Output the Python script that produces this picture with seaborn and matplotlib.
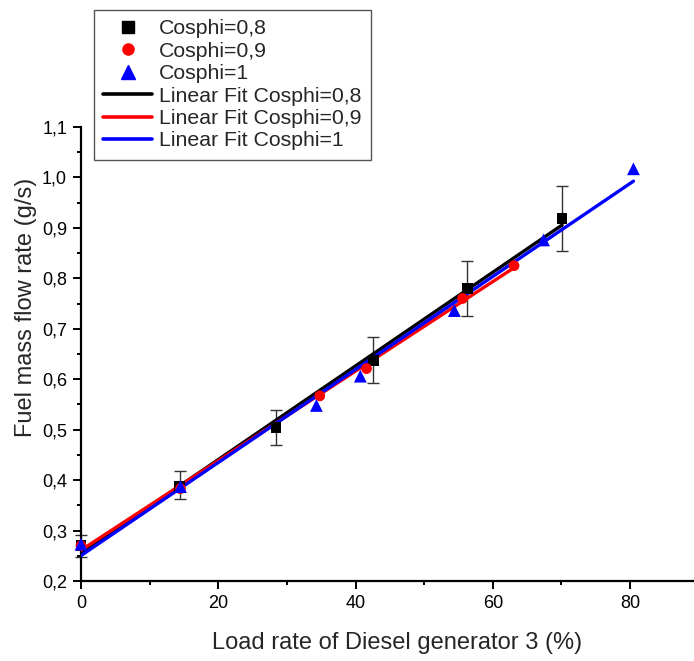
import matplotlib
matplotlib.use("Agg")
import matplotlib.pyplot as plt
import seaborn as sns
import numpy as np
import pandas as pd
from matplotlib.ticker import FuncFormatter, MultipleLocator
from matplotlib.lines import Line2D

# Data
x_08 = [0, 14.4, 28.4, 42.6, 56.3, 70.1]
y_08 = [0.270, 0.387, 0.504, 0.637, 0.780, 0.918]
err_lo_08 = [0.022, 0.024, 0.034, 0.044, 0.054, 0.063]
err_hi_08 = [0.021, 0.031, 0.035, 0.046, 0.054, 0.065]

x_09 = [0, 14.5, 34.8, 41.6, 55.6, 63.1]
y_09 = [0.270, 0.383, 0.567, 0.621, 0.760, 0.825]

x_10 = [0, 14.5, 34.3, 40.7, 54.4, 67.4, 80.5]
y_10 = [0.273, 0.387, 0.548, 0.606, 0.736, 0.876, 1.017]

labels_pts = ["Cosphi=0,8", "Cosphi=0,9", "Cosphi=1"]
labels_fit = ["Linear Fit Cosphi=0,8", "Linear Fit Cosphi=0,9", "Linear Fit Cosphi=1"]
colors = ["black", "red", "blue"]
markers = ["s", "o", "^"]

sns.set_theme(style="white")
plt.rcParams["font.family"] = ["Liberation Sans", "DejaVu Sans"]

fig = plt.figure(figsize=(6.94, 6.61), dpi=100)
ax = fig.add_axes([0.1167, 0.121, 0.890, 0.687])

series = [(x_08, y_08), (x_09, y_09), (x_10, y_10)]

# error bars for Cosphi=0.8
ax.errorbar(x_08, y_08, yerr=[err_lo_08, err_hi_08], fmt="none", ecolor="#333333",
            elinewidth=1.0, capsize=4, capthick=1.0, zorder=2, clip_on=False)

# linear fits
for (xs, ys), c in zip(series, colors):
    df = pd.DataFrame({"x": xs, "y": ys})
    sns.regplot(data=df, x="x", y="y", ax=ax, scatter=False, ci=None, truncate=True,
                line_kws={"color": c, "lw": 2.4, "zorder": 3})

# points
sizes = [60, 60, 85]
for (xs, ys), c, m, s in zip(series, colors, markers, sizes):
    df = pd.DataFrame({"x": xs, "y": ys})
    sns.scatterplot(data=df, x="x", y="y", ax=ax, color=c, marker=m, s=s,
                    edgecolor="none", zorder=4, clip_on=False, legend=False)

ax.set_xlim(0, 90)
ax.set_ylim(0.2, 1.1)
ax.xaxis.set_major_locator(MultipleLocator(20))
ax.xaxis.set_minor_locator(MultipleLocator(10))
ax.yaxis.set_major_locator(MultipleLocator(0.1))
ax.yaxis.set_minor_locator(MultipleLocator(0.05))
ax.yaxis.set_major_formatter(FuncFormatter(lambda v, p: f"{v:.1f}".replace(".", ",")))
ax.xaxis.set_major_formatter(FuncFormatter(lambda v, p: f"{v:.0f}"))

for side in ["top", "right"]:
    ax.spines[side].set_visible(False)
for side in ["left", "bottom"]:
    ax.spines[side].set_color("black")
    ax.spines[side].set_linewidth(1.6)

ax.tick_params(axis="both", which="major", direction="out", length=6, width=1.4,
               colors="black", labelsize=13, left=True, bottom=True, pad=4)
ax.tick_params(axis="both", which="minor", direction="out", length=3, width=1.4,
               colors="black", left=True, bottom=True)

ax.set_xlabel("Load rate of Diesel generator 3 (%)", fontsize=17)
ax.set_ylabel("Fuel mass flow rate (g/s)", fontsize=17)
ax.xaxis.set_label_coords(0.512, -0.112)
ax.yaxis.set_label_coords(-0.072, 0.603)

handles = [Line2D([], [], ls="none", marker=m, color=c, markersize=8 if m != "^" else 9.5)
           for m, c in zip(markers, colors)]
handles += [Line2D([], [], color=c, lw=2.6) for c in colors]
leg = fig.legend(handles, labels_pts + labels_fit, loc="upper left",
                 bbox_to_anchor=(0.135, 0.985), fontsize=15.3, frameon=True,
                 fancybox=False, edgecolor="#555555", framealpha=1,
                 labelspacing=0.16, handlelength=2.3, handletextpad=0.33,
                 borderpad=0.45, borderaxespad=0)
leg.get_frame().set_linewidth(1.0)

fig.savefig("out.png", dpi=100)
